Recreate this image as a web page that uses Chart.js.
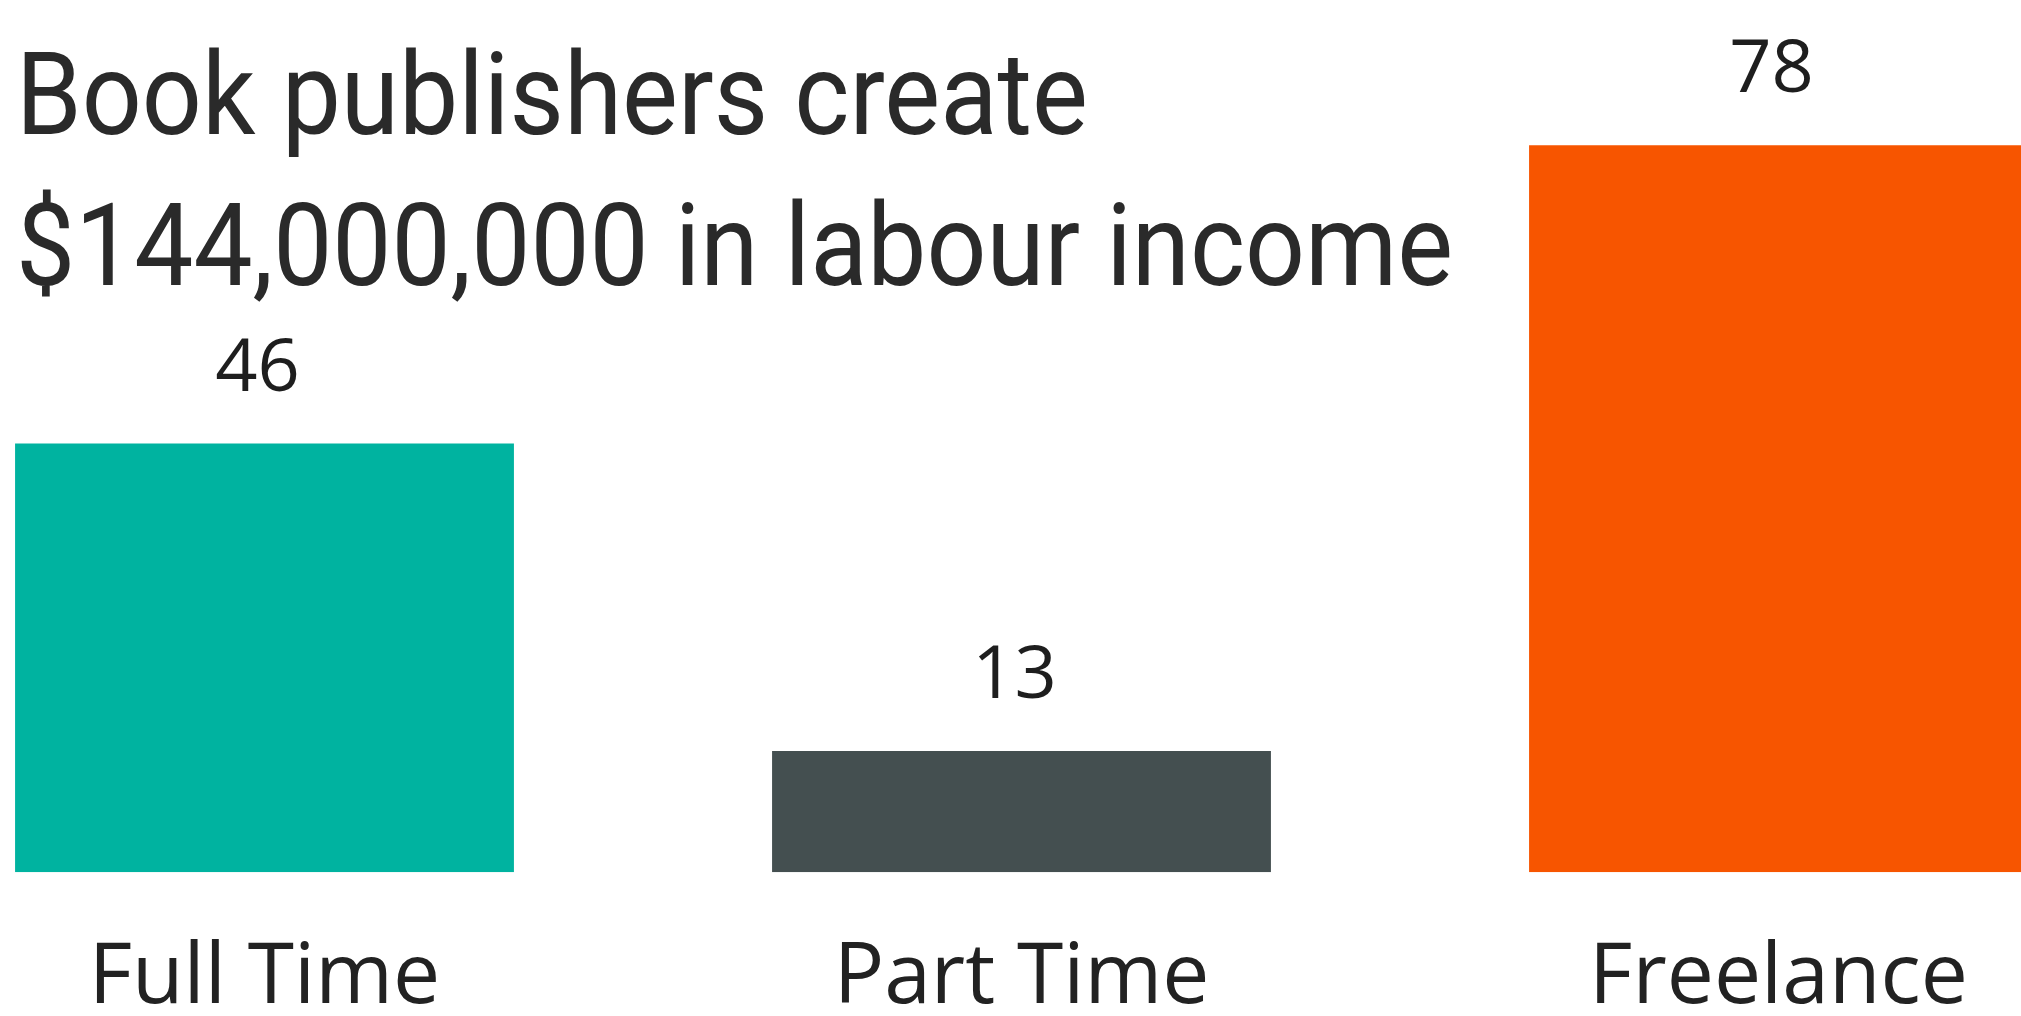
<!DOCTYPE html>
<html><head><meta charset="utf-8">
<script src="https://cdn.jsdelivr.net/npm/chart.js@4.4.1/dist/chart.umd.min.js"></script>
<style>
html,body{margin:0;padding:0;background:#fff;overflow:hidden;width:2021px;height:1016px;position:relative}
#wrap{position:absolute;left:-114px;top:0;width:2271px;height:1085px}
.tl{position:absolute;left:16px;white-space:nowrap;font-family:Roboto,"DejaVu Sans Condensed",sans-serif;font-weight:400;font-size:115px;line-height:115px;color:#2a2a2a;transform-origin:0 0;display:inline-block}
</style></head><body>
<div id="wrap"><canvas id="c"></canvas></div>
<div class="tl" id="t1" style="top:37px"></div>
<div class="tl" id="t2" style="top:188px"></div>
<script>
const titleLines = ["Book publishers create", "$144,000,000 in labour income"];
const titleWidths = [1072, 1437];
const categories = ["Full Time", "Part Time", "Freelance"];
const values = [46, 13, 78];
const barColors = ["#00b3a0", "#444f50", "#f75500"];

["t1","t2"].forEach((id, i) => {
  const el = document.getElementById(id);
  el.textContent = titleLines[i];
  const w = el.getBoundingClientRect().width;
  el.style.transform = "scaleX(" + (titleWidths[i] / w) + ")";
});

const valueLabels = {
  id: 'valueLabels',
  afterDatasetsDraw(chart) {
    const ctx = chart.ctx;
    const meta = chart.getDatasetMeta(0);
    ctx.save();
    ctx.font = '400 74px "Open Sans"';
    ctx.fillStyle = '#1e1e1e';
    ctx.textAlign = 'center';
    ctx.textBaseline = 'alphabetic';
    meta.data.forEach((bar, i) => {
      ctx.fillText(String(values[i]), bar.x - 7, bar.y - 53);
    });
    ctx.restore();
  }
};

new Chart(document.getElementById('c'), {
  type: 'bar',
  data: {
    labels: categories,
    datasets: [{
      data: values,
      backgroundColor: barColors,
      borderWidth: 0,
      categoryPercentage: 1,
      barPercentage: 0.659
    }]
  },
  options: {
    responsive: true,
    maintainAspectRatio: false,
    animation: false,
    devicePixelRatio: 1,
    layout: { padding: 0 },
    plugins: { legend: { display: false }, tooltip: { enabled: false }, title: { display: false } },
    scales: {
      x: {
        grid: { display: false, drawTicks: false },
        border: { display: false },
        ticks: { padding: 56, color: '#222', font: { family: 'Open Sans', size: 84 }, maxRotation: 0, autoSkip: false }
      },
      y: { display: false, min: 0, max: 93.6 }
    }
  },
  plugins: [valueLabels]
});
</script>
</body></html>
